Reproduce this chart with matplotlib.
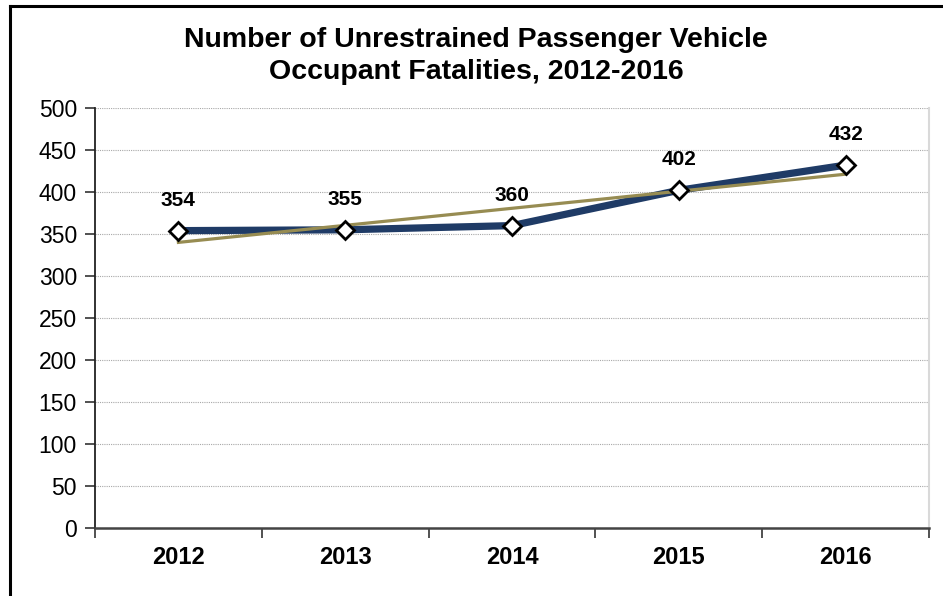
import matplotlib
matplotlib.use("Agg")
import matplotlib.pyplot as plt
from matplotlib.lines import Line2D
import numpy as np

plt.rcParams['font.family'] = ['Liberation Sans', 'DejaVu Sans']

years = ["2012", "2013", "2014", "2015", "2016"]
fatalities = [354, 355, 360, 402, 432]
yticks = [0, 50, 100, 150, 200, 250, 300, 350, 400, 450, 500]

fig = plt.figure(figsize=(9.43, 5.96), dpi=100)
W, H = 943, 596
ax = fig.add_axes([95 / W, 1 - 528 / H, (929 - 95) / W, (528 - 108) / H])

x = np.arange(len(years))
# linear trendline fit
coef = np.polyfit(x, fatalities, 1)
trend = np.polyval(coef, x)

ax.plot(x, fatalities, color='#1F3B66', lw=5.2, zorder=3, solid_capstyle='butt')
ax.plot(x, trend, color='#978C52', lw=2.3, zorder=4)
ax.plot(x, fatalities, ls='none', marker='D', ms=9.5, mfc='white', mec='black', mew=2.0, zorder=5)

for xi, v in zip(x, fatalities):
    ax.annotate(str(v), (xi, v), xytext=(0, 15), textcoords='offset points',
                ha='center', va='bottom', fontsize=15, fontweight='bold', color='black')

ax.set_xlim(-0.5, len(years) - 0.5)
ax.set_ylim(0, 500)
ax.set_yticks(yticks)
ax.set_yticklabels([str(t) for t in yticks], fontsize=16.5)
ax.set_xticks(x)
ax.set_xticklabels(years, fontsize=17, fontweight='bold')
ax.set_xticks(np.arange(-0.5, len(years), 1.0), minor=True)
ax.tick_params(axis='x', which='major', length=0, pad=13)
ax.tick_params(axis='x', which='minor', length=7, width=1.2, direction='out', color='#333333')
ax.tick_params(axis='y', length=7, width=1.2, direction='out', color='#333333', pad=6)

ax.grid(axis='y', ls=(0, (1, 1)), color='#A8A8A8', lw=0.8)
ax.set_axisbelow(True)
ax.spines['top'].set_visible(False)
ax.spines['right'].set_color('#D9D9D9')
ax.spines['right'].set_linewidth(1.5)
ax.spines['left'].set_color('#222222')
ax.spines['left'].set_linewidth(1.3)
ax.spines['bottom'].set_color('#444444')
ax.spines['bottom'].set_linewidth(1.8)

fig.text(476 / W, 1 - 40 / H, "Number of Unrestrained Passenger Vehicle", ha='center', va='center',
         fontsize=20.5, fontweight='bold')
fig.text(476 / W, 1 - 72 / H, "Occupant Fatalities, 2012-2016", ha='center', va='center',
         fontsize=20.5, fontweight='bold')

# outer frame (left and top edges visible)
fig.add_artist(Line2D([10 / W, 10 / W], [0, 1 - 6 / H], transform=fig.transFigure, color='black', lw=2.2))
fig.add_artist(Line2D([10 / W, 1], [1 - 6 / H, 1 - 6 / H], transform=fig.transFigure, color='black', lw=2.2))

fig.savefig("out.png", dpi=100)
